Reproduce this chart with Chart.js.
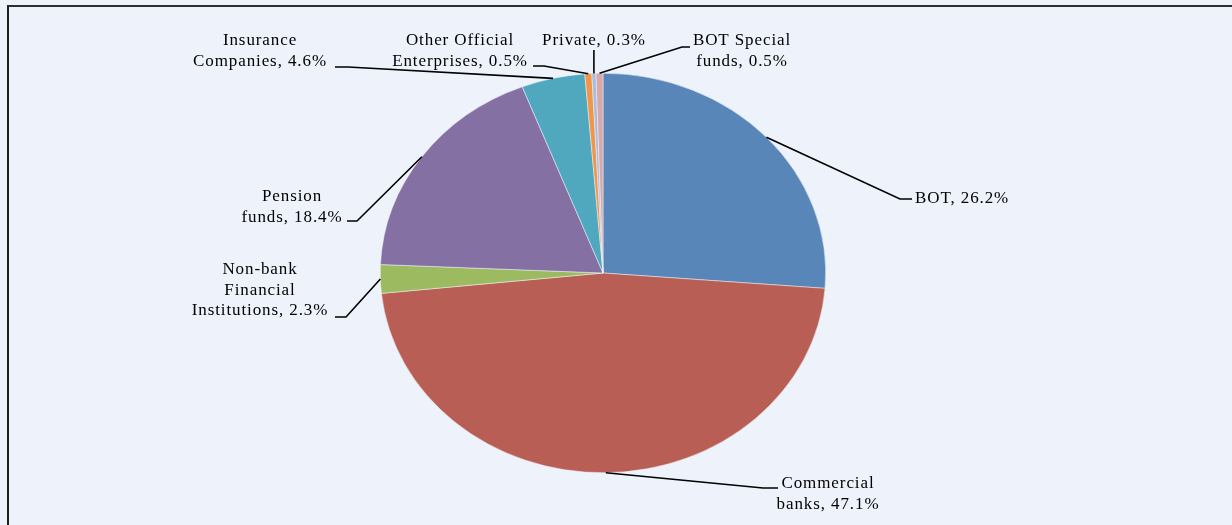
<!DOCTYPE html>
<html>
<head>
<meta charset="utf-8">
<script src="https://cdn.jsdelivr.net/npm/chart.js@4/dist/chart.umd.min.js"></script>
<style>
  html, body { margin: 0; padding: 0; background: #EEF2FA; overflow: hidden; }
  #wrap { position: relative; width: 1232px; height: 525px; }
  #frame { position: absolute; left: 7px; top: 5px; right: -10px; bottom: -10px;
           border-left: 2px solid #1e1e1e; border-top: 2px solid #2e2e2e; }
  canvas { position: absolute; left: 0; top: 0; }
</style>
</head>
<body>
<div id="wrap">
  <div id="frame"></div>
  <canvas id="grafico" width="1232" height="525"></canvas>
</div>
<script>
// holders of government securities, share of total (%)
const nomes = [
  ['BOT'],
  ['Commercial', 'banks'],
  ['Non-bank', 'Financial', 'Institutions'],
  ['Pension', 'funds'],
  ['Insurance', 'Companies'],
  ['Other Official', 'Enterprises'],
  ['Private'],
  ['BOT Special', 'funds']
];
const valores = [26.2, 47.1, 2.3, 18.4, 4.6, 0.5, 0.3, 0.5];
const cores = ['#5886B8', '#B95E55', '#9CBA5F', '#8570A4', '#4FA8BE', '#EF964A', '#A9BDDC', '#D9A8A8'];

const categorias = nomes.map(n => n.join(' '));

// where each label sits: text centre x, first line y, elbow and end of the leader line
const rotulos = [
  { x: 915, y: 199, align: 'left',   cotovelo: [900, 199], fim: [912, 199] },
  { x: 828, y: 484, align: 'center', cotovelo: [763, 488], fim: [778, 488] },
  { x: 260, y: 270, align: 'center', cotovelo: [346, 317], fim: [335, 317] },
  { x: 292, y: 197, align: 'center', cotovelo: [357, 221], fim: [347, 221] },
  { x: 260, y: 41,  align: 'center', cotovelo: [348, 67],  fim: [335, 67] },
  { x: 460, y: 41,  align: 'center', cotovelo: [544, 66],  fim: [533, 66] },
  { x: 594, y: 41,  align: 'center', cotovelo: null,       fim: null },
  { x: 742, y: 41,  align: 'center', cotovelo: [682, 47],  fim: [690, 47] }
];

// the pie is a little wider than it is tall
const ESTICA = 1.115;

const elipse = {
  id: 'elipse',
  beforeDatasetsDraw(chart) {
    const arco = chart.getDatasetMeta(0).data[0];
    const ctx = chart.ctx;
    ctx.save();
    ctx.translate(arco.x, arco.y);
    ctx.scale(ESTICA, 1);
    ctx.translate(-arco.x, -arco.y);
  },
  afterDatasetsDraw(chart) {
    chart.ctx.restore();
  }
};

const legendas = {
  id: 'legendas',
  afterDraw(chart) {
    const ctx = chart.ctx;
    const arcos = chart.getDatasetMeta(0).data;
    ctx.save();
    ctx.font = '17px "Liberation Serif", "Times New Roman", serif';
    ctx.letterSpacing = '0.9px';
    ctx.fillStyle = '#000';
    ctx.strokeStyle = '#000';
    ctx.lineWidth = 1.6;
    ctx.textBaseline = 'middle';
    arcos.forEach((arco, i) => {
      const r = rotulos[i];
      const meio = (arco.startAngle + arco.endAngle) / 2;
      const px = arco.x + Math.cos(meio) * arco.outerRadius * ESTICA;
      const py = arco.y + Math.sin(meio) * arco.outerRadius;

      ctx.beginPath();
      ctx.moveTo(px, py);
      if (r.cotovelo) {
        ctx.lineTo(r.cotovelo[0], r.cotovelo[1]);
        ctx.lineTo(r.fim[0], r.fim[1]);
      } else {
        ctx.lineTo(px, r.y + 9);
      }
      ctx.stroke();

      const linhas = nomes[i].slice();
      linhas[linhas.length - 1] += ', ' + valores[i].toFixed(1) + '%';
      ctx.textAlign = r.align;
      linhas.forEach((t, k) => ctx.fillText(t, r.x, r.y + k * 20.5));
    });
    ctx.restore();
  }
};

new Chart(document.getElementById('grafico'), {
  type: 'pie',
  data: {
    labels: categorias,
    datasets: [{
      data: valores,
      backgroundColor: cores,
      borderColor: '#EEF2FA',
      borderWidth: 0.5
    }]
  },
  options: {
    responsive: false,
    animation: false,
    devicePixelRatio: 1,
    layout: { padding: { top: 73, bottom: 52, left: 203, right: 229 } },
    plugins: {
      legend: { display: false },
      tooltip: { enabled: false }
    }
  },
  plugins: [elipse, legendas]
});
</script>
</body>
</html>
